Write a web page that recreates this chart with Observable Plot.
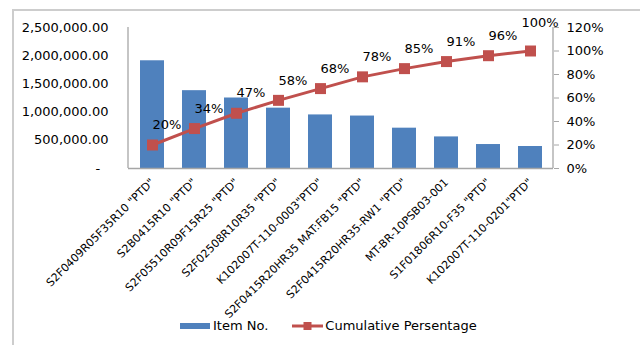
<!DOCTYPE html>
<html>
<head>
<meta charset="utf-8">
<script src="https://cdn.jsdelivr.net/npm/d3@7"></script>
<script src="https://cdn.jsdelivr.net/npm/@observablehq/plot@0.6"></script>
<style>
  html, body { margin: 0; padding: 0; background: #fff; width: 640px; height: 345px; overflow: hidden; font-family: "DejaVu Sans", sans-serif; }
  #border { position: absolute; left: 12px; top: 9px; width: 700px; height: 400px; border-left: 2px solid #cdcdcd; border-top: 2px solid #cdcdcd; }
  #chart { position: absolute; left: 0; top: 0; }
  #legend { position: absolute; left: 180px; top: 318px; display: flex; align-items: center; font-size: 13px; color: #000; line-height: 16px; }
  .sw-bar { display: inline-block; width: 30px; height: 6px; background: #4F81BD; margin-right: 3px; }
  .sw-line { display: inline-block; margin-left: 24px; margin-right: 2px; }
</style>
</head>
<body>
<div id="border"></div>
<div id="chart"></div>
<div id="legend">
  <span class="sw-bar"></span><span>Item No.</span>
  <svg class="sw-line" width="31" height="12" viewBox="0 0 31 12"><line x1="0" x2="31" y1="6" y2="6" stroke="#C0504D" stroke-width="3"/><rect x="11.5" y="2" width="8" height="8" fill="#C0504D"/></svg><span>Cumulative Persentage</span>
</div>
<script>
// Pareto of items: amount per item (bars) and cumulative share (line)
const items = [
  'S2F0409R05F35R10 "PTD"',
  'S2B0415R10 "PTD"',
  'S2F05510R09F15R25 "PTD"',
  'S2F02508R10R35 "PTD"',
  'K102007T-110-0003"PTD"',
  'S2F0415R20HR35 MAT:FB15 "PTD"',
  'S2F0415R20HR35-RW1 "PTD"',
  'MT-BR-10PSB03-001',
  'S1F01806R10-F35 "PTD"',
  'K102007T-110-0201"PTD"'
];
const amounts = [1910000, 1380000, 1250000, 1070000, 950000, 930000, 715000, 560000, 425000, 390000];
const cumulative = [20, 34, 47, 58, 68, 78, 85, 91, 96, 100];
const amountTicks = [0, 500000, 1000000, 1500000, 2000000, 2500000];
const pctTicks = [0, 20, 40, 60, 80, 100, 120];

// The percentage axis shares the plot's y scale: 120% lines up with the top amount tick
const yMax = amountTicks[amountTicks.length - 1];
const pMax = pctTicks[pctTicks.length - 1];
const toY = p => p / pMax * yMax;

const rows = items.map((item, i) => ({item, amount: amounts[i], pct: cumulative[i], yp: toY(cumulative[i])}));

const fmtAmount = d => d === 0 ? "-\u2007" : d3.format(",.2f")(d);
const fmtPct = v => Math.round(v / yMax * pMax) + "%";

// Vertical axis lines on both sides of the plotting area
function axisLines(index, scales, values, dims) {
  const {width, height, marginLeft, marginRight, marginTop, marginBottom} = dims;
  const g = d3.create("svg:g").attr("stroke", "#a6a6a6").attr("stroke-width", 1.3);
  g.append("line").attr("x1", marginLeft).attr("x2", marginLeft).attr("y1", marginTop).attr("y2", height - marginBottom);
  g.append("line").attr("x1", width - marginRight).attr("x2", width - marginRight).attr("y1", marginTop).attr("y2", height - marginBottom);
  return g.node();
}

const chart = Plot.plot({
  width: 640,
  height: 345,
  marginLeft: 128,
  marginRight: 87,
  marginTop: 27,
  marginBottom: 177,
  style: {fontFamily: "DejaVu Sans", fontSize: "13px", color: "#000", background: "transparent"},
  x: {domain: items, paddingInner: 0.44, paddingOuter: 0.22, label: null},
  y: {domain: [0, yMax], label: null},
  marks: [
    Plot.barY(rows, {x: "item", y: "amount", fill: "#4F81BD"}),
    Plot.ruleY([0], {stroke: "#a6a6a6", strokeWidth: 1.3}),
    axisLines,
    Plot.axisY(amountTicks, {anchor: "left", tickSize: 0, tickPadding: 20, tickFormat: fmtAmount, label: null, fontSize: 13}),
    Plot.axisY(pctTicks.map(toY), {anchor: "right", tickSize: 5, tickPadding: 8, stroke: "#a6a6a6", fill: "#000", tickFormat: fmtPct, label: null, fontSize: 13}),
    Plot.axisX({tickRotate: -45, tickSize: 0, tickPadding: 12, fontSize: 11, label: null}),
    Plot.line(rows, {x: "item", y: "yp", stroke: "#C0504D", strokeWidth: 3}),
    Plot.dot(rows, {x: "item", y: "yp", symbol: "square", r: 6.2, fill: "#C0504D"}),
    Plot.text(rows.slice(0, -1), {x: "item", y: "yp", text: d => d.pct + "%", textAnchor: "start", dy: -20, fontSize: 13, fill: "#000"}),
    Plot.text(rows.slice(-1), {x: "item", y: "yp", text: d => d.pct + "%", textAnchor: "start", dx: -9, dy: -28, fontSize: 13, fill: "#000"})
  ]
});
document.getElementById("chart").appendChild(chart);
</script>
</body>
</html>
